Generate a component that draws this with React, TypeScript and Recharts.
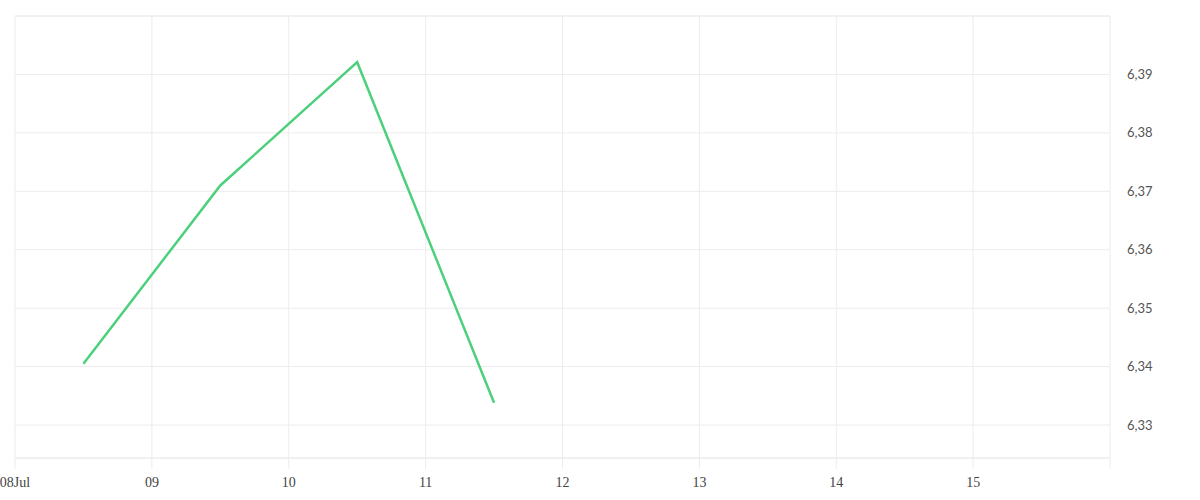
import { LineChart, Line, XAxis, YAxis, CartesianGrid, ReferenceLine } from "recharts";

// day-of-month at each reading (readings fall at midday)
const pointDays = [8.5, 9.5, 10.5, 11.5];
const rates = [6.3405, 6.371, 6.3921, 6.3338];

const dayTicks = [8, 9, 10, 11, 12, 13, 14, 15, 16];
const dayLabels = ["08Jul", "09", "10", "11", "12", "13", "14", "15", ""];

const rateTicks = [6.33, 6.34, 6.35, 6.36, 6.37, 6.38, 6.39];
const rateTop = 6.4;
const rateBottom = 6.32436;

const data = pointDays.map((day, i) => ({ day, rate: rates[i] }));

const GRID = "#ececec";

export default function App() {
  return (
    <div style={{ position: "absolute", left: 0, top: 0, width: 1200, height: 500, background: "#fff" }}>
      <LineChart
        width={1200}
        height={500}
        data={data}
        margin={{ top: 16, right: 0, left: 15, bottom: 0 }}
      >
        <CartesianGrid stroke={GRID} strokeWidth={1} />
        <XAxis
          dataKey="day"
          type="number"
          domain={[8, 16]}
          ticks={dayTicks}
          tickFormatter={(v: number) => dayLabels[dayTicks.indexOf(v)] ?? ""}
          height={42}
          axisLine={{ stroke: GRID }}
          tickLine={{ stroke: GRID }}
          tickSize={11}
          tickMargin={8}
          interval={0}
          tick={{ fill: "#444", fontSize: 14, fontFamily: "'Liberation Serif', serif" }}
        />
        <YAxis
          orientation="right"
          type="number"
          domain={[rateBottom, rateTop]}
          ticks={rateTicks}
          tickFormatter={(v: number) => v.toFixed(2).replace(".", ",")}
          width={90}
          axisLine={false}
          tickLine={false}
          tickSize={6}
          tickMargin={11}
          allowDataOverflow
          tick={{ fill: "#555", fontSize: 13, fontFamily: "Lato, sans-serif" }}
        />
        <ReferenceLine y={rateTop} stroke={GRID} />
        <Line
          type="linear"
          dataKey="rate"
          stroke="#4dd07b"
          strokeWidth={2.5}
          dot={false}
          activeDot={false}
          isAnimationActive={false}
        />
      </LineChart>
    </div>
  );
}
